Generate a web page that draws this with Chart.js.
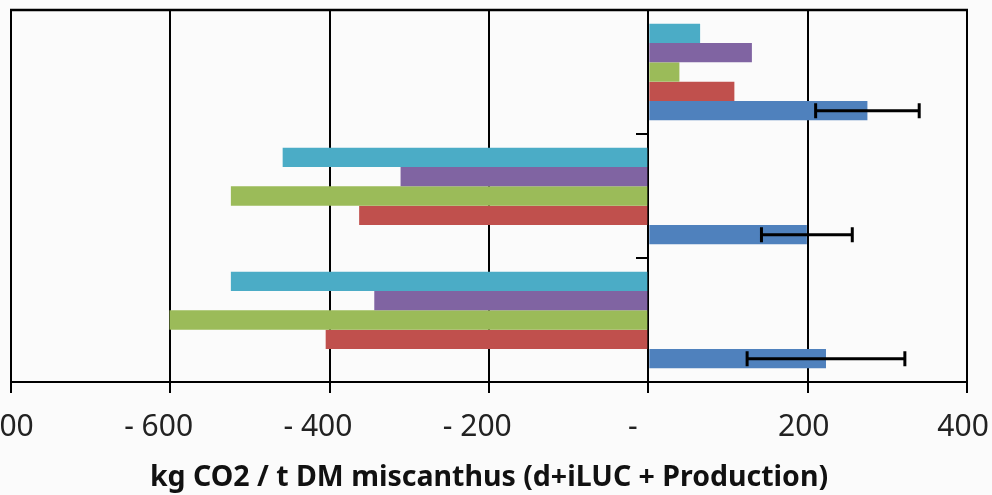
<!DOCTYPE html>
<html>
<head>
<meta charset="utf-8">
<title>kg CO2 / t DM miscanthus</title>
<script src="https://cdn.jsdelivr.net/npm/chart.js@4/dist/chart.umd.min.js"></script>
<style>
  html, body {
    margin: 0;
    padding: 0;
    width: 992px;
    height: 495px;
    overflow: hidden;
    background: #fbfbfb;
  }
  #wrap {
    position: absolute;
    left: -60px;
    top: 0;
    width: 1100px;
    height: 495px;
  }
</style>
</head>
<body>
<div id="wrap"><canvas id="co2Chart"></canvas></div>
<script>
// =======================================
// DATA
// =======================================
const categories = ["Scenario 1", "Scenario 2", "Scenario 3"];
const seriesNames = ["Series 1", "Series 2", "Series 3", "Series 4", "Series 5"];
const blueValues = [223, 199, 275];
const blueErrors = [99, 57, 65];
const redValues = [-405, -363, 108];
const greenValues = [-601, -524, 39];
const purpleValues = [-344, -311, 130];
const cyanValues = [-524, -459, 65];
const xTicks = [-800, -600, -400, -200, 0, 200, 400];

const colors = ["#4f81bd", "#c0504d", "#9bbb59", "#8064a2", "#4bacc6"];
const fontFamily = "'Noto Sans', 'Liberation Sans', sans-serif";

// =======================================
// Excel accounting style tick labels
// =======================================
function formatTick(v) {
  if (v < 0) return "- " + Math.abs(v) + "   ";
  if (v === 0) return "-    ";
  return v + " ";
}

// =======================================
// Series list (first series drawn at the bottom of each group)
// =======================================
const allValues = [blueValues, redValues, greenValues, purpleValues, cyanValues];
const datasets = allValues
  .map((vals, i) => ({
    label: seriesNames[i],
    data: vals,
    backgroundColor: colors[i],
    borderWidth: 0,
    categoryPercentage: 0.78,
    barPercentage: 1,
  }))
  .reverse();
const blueIndex = datasets.length - 1;

// =======================================
// Error bars on the first series
// =======================================
const errorBars = {
  id: "errorBars",
  afterDatasetsDraw(chart) {
    const meta = chart.getDatasetMeta(blueIndex);
    const xScale = chart.scales.x;
    const ctx = chart.ctx;
    ctx.save();
    ctx.strokeStyle = "#000";
    ctx.lineWidth = 3;
    meta.data.forEach((bar, i) => {
      const v = blueValues[i];
      const e = blueErrors[i];
      const x1 = xScale.getPixelForValue(v - e);
      const x2 = xScale.getPixelForValue(v + e);
      const y = bar.y;
      ctx.beginPath();
      ctx.moveTo(x1, y);
      ctx.lineTo(x2, y);
      ctx.moveTo(x1, y - 7.5);
      ctx.lineTo(x1, y + 7.5);
      ctx.moveTo(x2, y - 7.5);
      ctx.lineTo(x2, y + 7.5);
      ctx.stroke();
    });
    ctx.restore();
  },
};

// =======================================
// Top border of plot area
// =======================================
const plotBorder = {
  id: "plotBorder",
  afterDraw(chart) {
    const { left, right, top } = chart.chartArea;
    const ctx = chart.ctx;
    ctx.save();
    ctx.strokeStyle = "#000";
    ctx.lineWidth = 2.5;
    ctx.beginPath();
    ctx.moveTo(left - 1, top);
    ctx.lineTo(right + 1, top);
    ctx.stroke();
    ctx.restore();
  },
};

// =======================================
// Chart
// =======================================
new Chart(document.getElementById("co2Chart").getContext("2d"), {
  type: "bar",
  data: {
    labels: categories,
    datasets: datasets,
  },
  options: {
    indexAxis: "y",
    responsive: true,
    maintainAspectRatio: false,
    animation: false,
    layout: { padding: { left: 71, right: 73, top: 10, bottom: 0 } },
    plugins: {
      legend: { display: false },
      tooltip: { enabled: false },
    },
    scales: {
      x: {
        min: -800,
        max: 400,
        afterBuildTicks: (scale) => {
          scale.ticks = xTicks.map((v) => ({ value: v }));
        },
        ticks: {
          callback: (v) => formatTick(v),
          color: "#222",
          font: { family: fontFamily, size: 30 },
          padding: 16,
          maxRotation: 0,
          autoSkip: false,
        },
        grid: {
          color: "#000",
          lineWidth: 2,
          tickLength: 11,
        },
        border: { color: "#000", width: 2 },
        title: {
          display: true,
          text: "kg CO2 / t DM miscanthus (d+iLUC + Production)",
          color: "#111",
          font: { family: fontFamily, size: 28.5, weight: "bold", lineHeight: 1 },
          padding: { top: 2.75, bottom: 2.75 },
        },
      },
      y: {
        reverse: true,
        position: { x: 0 },
        ticks: { display: false },
        grid: {
          drawOnChartArea: false,
          drawTicks: true,
          tickLength: 11,
          color: "#000",
          lineWidth: 2,
        },
        border: { color: "#000", width: 2 },
      },
    },
  },
  plugins: [errorBars, plotBorder],
});
</script>
</body>
</html>
